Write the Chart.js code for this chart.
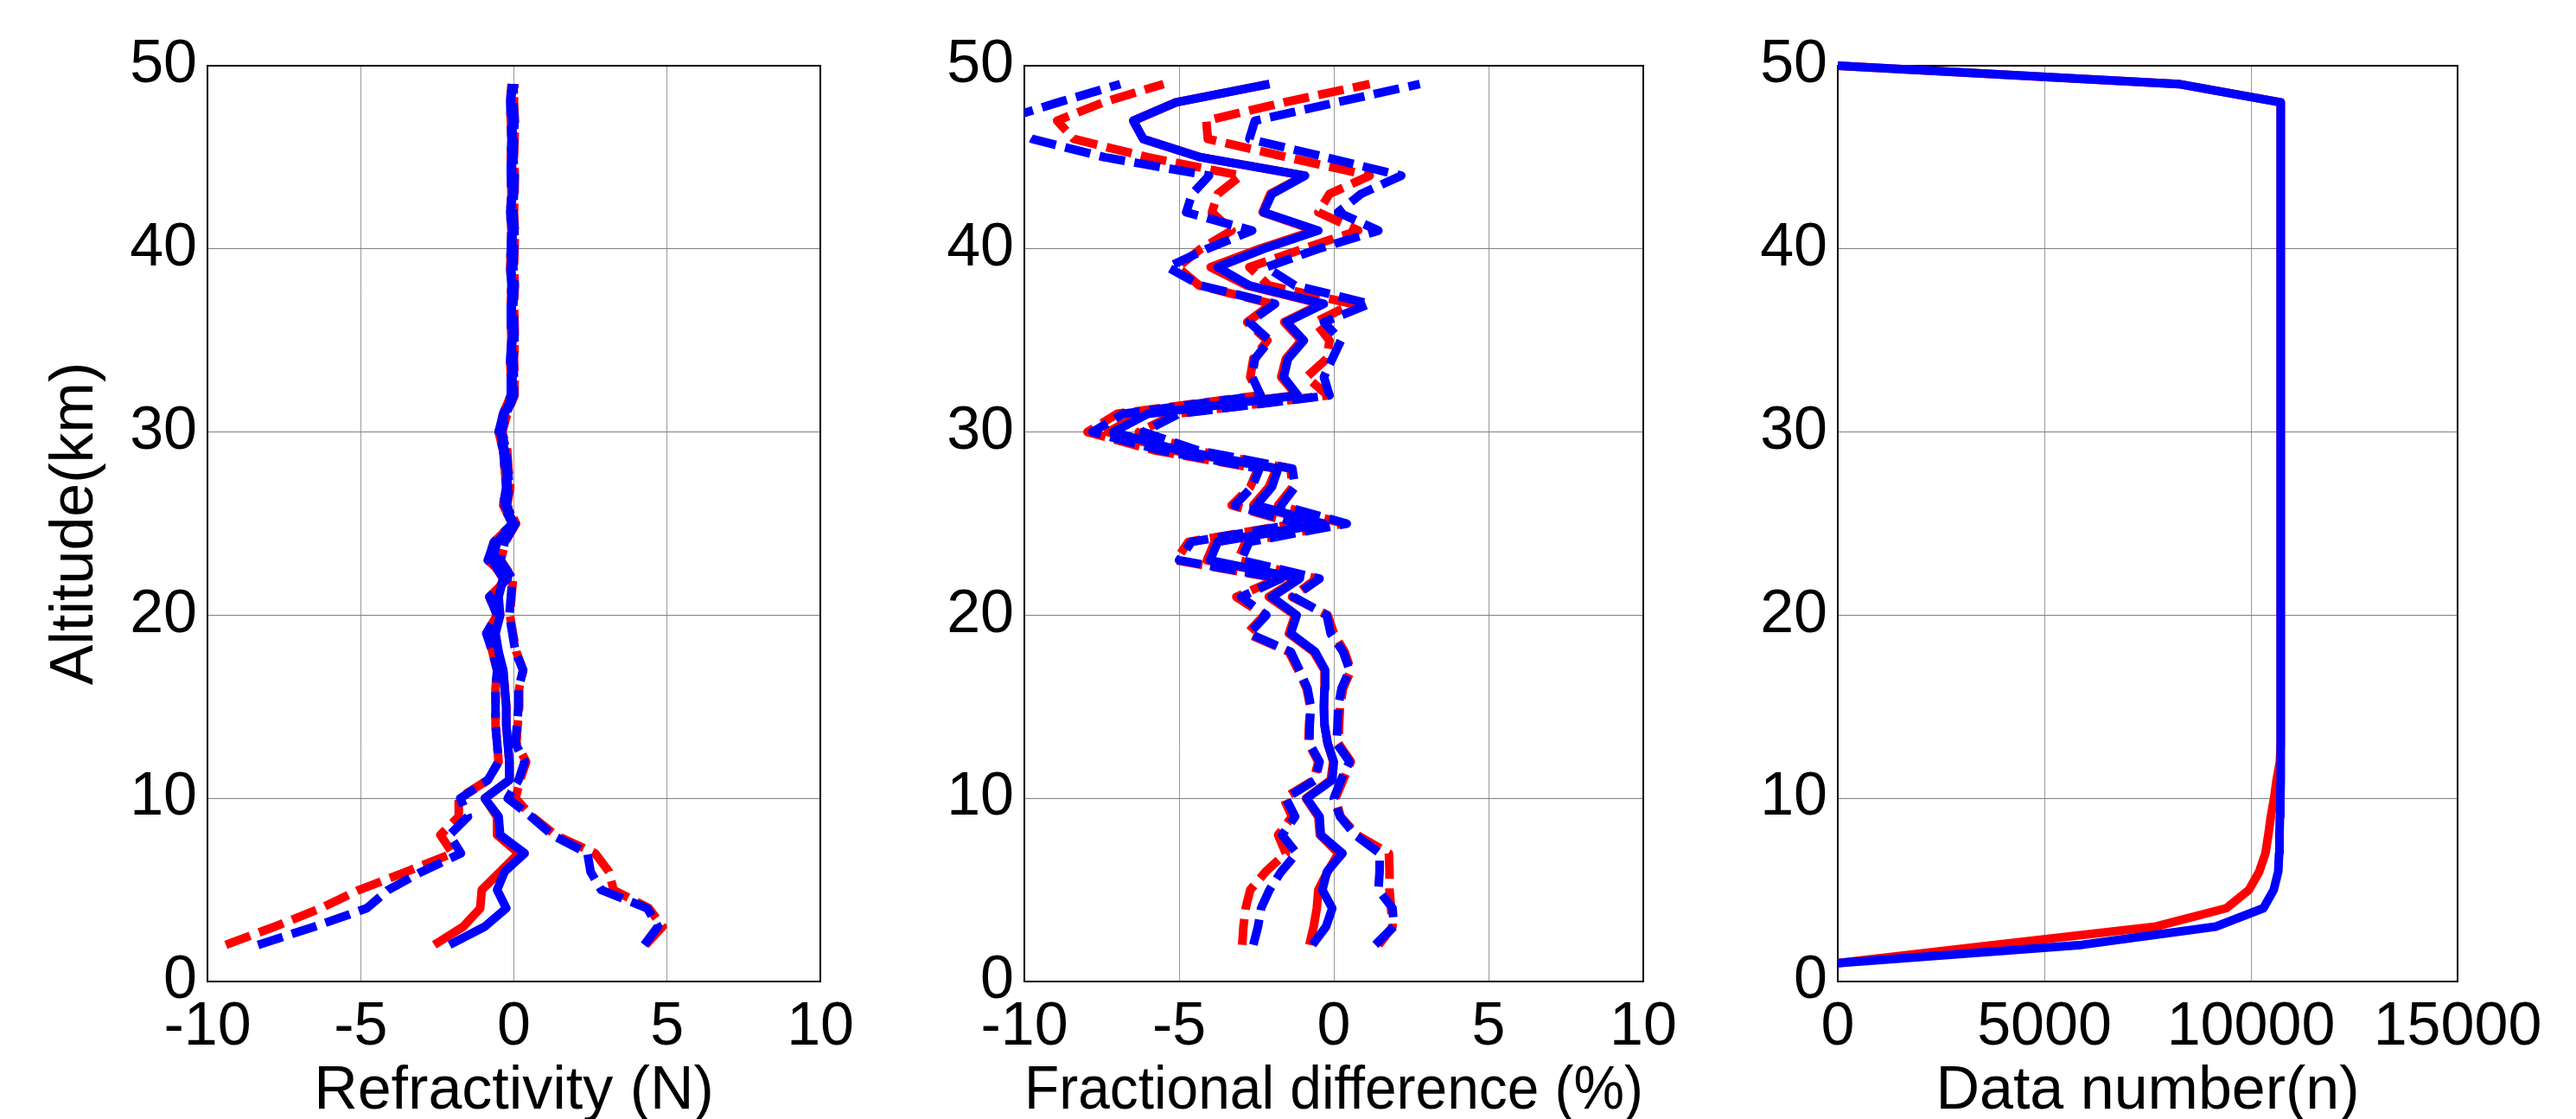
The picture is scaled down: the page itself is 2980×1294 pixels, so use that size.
<!DOCTYPE html>
<html>
<head>
<meta charset="utf-8">
<script src="https://cdn.jsdelivr.net/npm/chart.js@4.4.1/dist/chart.umd.min.js"></script>
<style>
  html, body { margin: 0; padding: 0; background: #fff; }
  body { width: 2980px; height: 1294px; position: relative; overflow: hidden; }
  .panel { position: absolute; top: 0; height: 1294px; }
  canvas { display: block; }
</style>
</head>
<body>
<div class="panel" style="left:0px;width:1000px"><canvas id="refractivityChart" width="1000" height="1294"></canvas></div>
<div class="panel" style="left:1000px;width:960px"><canvas id="fractionChart" width="960" height="1294"></canvas></div>
<div class="panel" style="left:1960px;width:1020px"><canvas id="countChart" width="1020" height="1294"></canvas></div>
<script>
// altitudes (km) of the profile levels
const altitudes = [2, 3, 4, 5, 6, 7, 8, 9, 10, 11, 12, 13, 14, 15, 16, 17, 18, 19, 20, 21,
    22, 23, 24, 25, 26, 27, 28, 29, 30, 31, 32, 33, 34, 35, 36, 37, 38, 39, 40, 41,
    42, 43, 44, 45, 46, 47, 48, 49];
const countAltitudes = [1, 2, 3, 4, 5, 6, 7, 8, 9, 10, 11, 12, 13, 14, 15, 16, 17, 18, 19, 20,
    21, 22, 23, 24, 25, 26, 27, 28, 29, 30, 31, 32, 33, 34, 35, 36, 37, 38, 39, 40,
    41, 42, 43, 44, 45, 46, 47, 48, 49, 50];

// panel 1: refractivity (N)
const refRedMean = [-2.6, -1.65, -1.1, -1.05, -0.45, 0.15, -0.55, -0.55, -0.95, -0.15,
    -0.15, -0.2, -0.25, -0.25, -0.3, -0.35, -0.55, -0.65, -0.45, -0.55,
    -0.35, -0.75, -0.55, 0.0, -0.3, -0.2, -0.25, -0.35, -0.45, -0.3,
    -0.05, -0.05, -0.1, -0.05, -0.05, -0.08, -0.05, -0.1, -0.05, -0.05,
    -0.1, -0.05, -0.05, -0.08, -0.05, -0.05, -0.1, -0.05];
const refBlueMean = [-2.1, -0.95, -0.25, -0.55, -0.3, 0.35, -0.45, -0.5, -0.95, -0.15,
    -0.15, -0.2, -0.25, -0.25, -0.3, -0.35, -0.5, -0.6, -0.45, -0.5,
    -0.35, -0.7, -0.55, 0.0, -0.3, -0.2, -0.25, -0.3, -0.45, -0.3,
    -0.05, -0.05, -0.1, -0.05, -0.05, -0.08, -0.05, -0.1, -0.05, -0.05,
    -0.1, -0.05, -0.05, -0.08, -0.05, -0.05, -0.1, -0.05];
const refRedLow = [-9.4, -7.8, -6.3, -5.05, -3.5, -2.0, -2.4, -1.8, -1.8, -0.85,
    -0.5, -0.55, -0.6, -0.6, -0.6, -0.55, -0.7, -0.9, -0.55, -0.8,
    -0.2, -0.85, -0.65, -0.05, -0.35, -0.25, -0.3, -0.35, -0.5, -0.35,
    -0.1, -0.1, -0.12, -0.08, -0.1, -0.1, -0.08, -0.12, -0.1, -0.08,
    -0.12, -0.08, -0.1, -0.1, -0.08, -0.1, -0.12, -0.08];
const refBlueLow = [-8.35, -6.5, -4.8, -4.1, -3.0, -1.73, -2.1, -1.5, -1.75, -0.85,
    -0.5, -0.55, -0.6, -0.6, -0.6, -0.55, -0.7, -0.9, -0.55, -0.8,
    -0.2, -0.85, -0.65, -0.05, -0.35, -0.25, -0.3, -0.35, -0.5, -0.35,
    -0.1, -0.1, -0.12, -0.08, -0.1, -0.1, -0.08, -0.12, -0.1, -0.08,
    -0.12, -0.08, -0.1, -0.1, -0.08, -0.1, -0.12, -0.08];
const refRedHigh = [4.3, 4.85, 4.4, 3.25, 3.1, 2.65, 1.35, 0.6, 0.05, 0.2,
    0.4, 0.08, 0.12, 0.17, 0.17, 0.3, 0.08, -0.03, -0.13, -0.08,
    -0.03, -0.43, -0.28, 0.07, -0.22, -0.12, -0.18, -0.22, -0.38, -0.22,
    0.02, 0.02, 0.0, 0.03, 0.02, 0.0, 0.03, 0.0, 0.02, 0.03,
    0.0, 0.02, 0.03, 0.0, 0.02, 0.03, 0.0, 0.02];
const refBlueHigh = [4.25, 4.7, 4.35, 2.85, 2.5, 2.4, 1.25, 0.56, -0.2, 0.15,
    0.35, 0.05, 0.1, 0.15, 0.15, 0.3, 0.05, -0.05, -0.15, -0.1,
    -0.05, -0.45, -0.3, 0.05, -0.25, -0.15, -0.2, -0.25, -0.4, -0.25,
    0.0, 0.0, -0.02, 0.02, 0.0, -0.02, 0.02, -0.02, 0.0, 0.02,
    -0.02, 0.0, 0.02, -0.02, 0.0, 0.02, -0.02, 0.0];

// panel 2: fractional difference (%)
const fracRedMean = [-0.79, -0.65, -0.55, -0.5, -0.2, 0.15, -0.45, -0.5, -0.9, -0.1,
    -0.02, -0.2, -0.3, -0.32, -0.3, -0.3, -0.65, -1.45, -1.25, -2.1,
    -1.15, -4.1, -3.85, -0.4, -2.6, -2.1, -1.85, -5.2, -7.3, -6.2,
    -1.2, -1.7, -1.55, -1.05, -1.6, -0.4, -2.8, -3.98, -2.4, -0.6,
    -2.3, -2.05, -0.95, -4.3, -6.16, -6.48, -5.1, -2.08];
const fracBlueMean = [-0.69, -0.25, -0.05, -0.37, -0.22, 0.28, -0.42, -0.46, -0.88, -0.05,
    0.0, -0.2, -0.3, -0.32, -0.3, -0.28, -0.6, -1.39, -1.2, -2.0,
    -1.1, -4.0, -3.75, -0.32, -2.5, -2.0, -1.8, -5.0, -7.13, -6.0,
    -1.16, -1.62, -1.48, -0.97, -1.53, -0.32, -2.73, -3.75, -2.27, -0.5,
    -2.27, -2.0, -0.93, -4.3, -6.16, -6.48, -5.1, -2.08];
const fracRedLow = [-2.96, -2.92, -2.85, -2.7, -2.2, -1.55, -1.8, -1.35, -1.62, -0.65,
    -0.5, -0.82, -0.8, -0.76, -0.88, -1.15, -1.45, -2.8, -2.25, -3.15,
    -1.8, -5.1, -4.7, -1.25, -3.3, -2.7, -2.45, -5.8, -7.96, -7.0,
    -2.4, -2.7, -2.6, -2.15, -2.8, -2.0, -4.35, -5.05, -4.3, -3.3,
    -3.94, -3.75, -3.0, -6.0, -8.4, -8.94, -7.45, -5.5];
const fracBlueLow = [-2.6, -2.45, -2.35, -2.08, -1.7, -1.2, -1.67, -1.25, -1.55, -0.6,
    -0.46, -0.79, -0.78, -0.74, -0.85, -1.11, -1.39, -2.73, -2.18, -3.0,
    -1.7, -5.0, -4.6, -1.16, -3.2, -2.64, -2.4, -5.6, -7.8, -6.8,
    -2.36, -2.64, -2.55, -2.08, -2.73, -1.9, -4.3, -5.37, -4.1, -2.64,
    -4.77, -4.58, -4.03, -7.4, -9.75, -10.8, -8.9, -6.9];
const fracRedHigh = [1.45, 1.9, 1.85, 1.8, 1.8, 1.78, 0.75, 0.22, 0.05, 0.3,
    0.55, 0.15, 0.17, 0.2, 0.3, 0.55, 0.35, 0.0, -0.2, -1.35,
    -0.55, -3.1, -2.85, 0.3, -1.8, -1.33, -1.4, -4.5, -6.3, -5.1,
    -0.2, -0.88, -0.23, -0.14, -0.6, 0.6, -2.1, -2.73, -1.0, 0.79,
    -0.5, -0.14, 1.16, -1.5, -4.07, -4.12, -1.6, 1.16];
const fracBlueHigh = [1.34, 1.94, 1.9, 1.44, 1.48, 1.48, 0.69, 0.2, 0.0, 0.23,
    0.51, 0.09, 0.12, 0.14, 0.25, 0.51, 0.3, -0.1, -0.23, -1.3,
    -0.46, -3.0, -2.73, 0.42, -1.7, -1.25, -1.34, -4.4, -6.16, -5.0,
    -0.14, -0.32, -0.05, 0.23, -0.32, 1.16, -1.25, -2.18, -0.5, 1.44,
    0.14, 0.88, 2.18, -0.25, -2.73, -2.55, 0.09, 2.78];

// panel 3: data number (n)
const countRed = [0, 3800, 7700, 9400, 9950, 10200, 10350, 10420, 10480, 10560,
    10620, 10700, 10720, 10720, 10720, 10720, 10720, 10720, 10720, 10720,
    10720, 10720, 10720, 10720, 10720, 10720, 10720, 10720, 10720, 10720,
    10720, 10720, 10720, 10720, 10720, 10720, 10720, 10720, 10720, 10720,
    10720, 10720, 10720, 10720, 10720, 10720, 10720, 10720, 8250, 0];
const countBlue = [0, 5900, 9150, 10300, 10550, 10660, 10680, 10690, 10700, 10710,
    10720, 10720, 10720, 10720, 10720, 10720, 10720, 10720, 10720, 10720,
    10720, 10720, 10720, 10720, 10720, 10720, 10720, 10720, 10720, 10720,
    10720, 10720, 10720, 10720, 10720, 10720, 10720, 10720, 10720, 10720,
    10720, 10720, 10720, 10720, 10720, 10720, 10720, 10720, 8250, 0];

const RED = "#ff0000";
const BLUE = "#0000ff";
const FONT = "'Liberation Sans', Arial, sans-serif";
const DASH = [30, 11];

function profile(values, alts, color, dashed, clip) {
    return {
        data: values.map((v, i) => ({ x: v, y: alts[i] })),
        showLine: true,
        pointRadius: 0,
        borderWidth: 10,
        borderColor: color,
        backgroundColor: color,
        borderDash: dashed ? DASH : [],
        borderCapStyle: "butt",
        borderJoinStyle: "round",
        clip: clip
    };
}

function makePanel(canvasId, datasets, xCfg, leftWidth, rightWidth, yTitle) {
    const tickFont = { family: FONT, size: 70 };
    const titleFont = { family: FONT, size: 70, lineHeight: 1 };
    const border = { display: true, color: "#000", width: 2 };
    return new Chart(document.getElementById(canvasId), {
        type: "scatter",
        data: { datasets: datasets },
        options: {
            responsive: false,
            animation: false,
            devicePixelRatio: 1,
            layout: { padding: 0 },
            plugins: { legend: { display: false }, tooltip: { enabled: false } },
            scales: {
                x: {
                    type: "linear", position: "bottom",
                    min: xCfg.min, max: xCfg.max,
                    ticks: {
                        stepSize: xCfg.step, color: "#000", font: tickFont, padding: 12,
                        maxRotation: 0, autoSkip: false,
                        callback: v => String(v)
                    },
                    grid: { color: "#999", lineWidth: 1, drawTicks: false },
                    border: border,
                    title: { display: true, text: xCfg.title, color: "#000", font: titleFont, padding: { top: 0, bottom: -4 } },
                    afterFit: s => { s.height = 159; }
                },
                xTop: {
                    type: "linear", position: "top",
                    min: xCfg.min, max: xCfg.max,
                    ticks: { display: false },
                    grid: { display: false, drawTicks: false },
                    border: border,
                    afterFit: s => { s.height = 76; }
                },
                y: {
                    type: "linear", position: "left",
                    min: 0, max: 50,
                    ticks: { stepSize: 10, color: "#000", font: tickFont, padding: 12, autoSkip: false },
                    grid: { color: "#808080", lineWidth: 1, drawTicks: false },
                    border: border,
                    title: { display: !!yTitle, text: yTitle || "", color: "#000", font: titleFont, padding: { top: 53, bottom: 0 } },
                    afterFit: s => { s.width = leftWidth; }
                },
                yRight: {
                    type: "linear", position: "right",
                    min: 0, max: 50,
                    ticks: { display: false },
                    grid: { display: false, drawTicks: false },
                    border: border,
                    afterFit: s => { s.width = rightWidth; }
                }
            }
        }
    });
}

// blue lines come first so they are drawn on top of the red ones
makePanel("refractivityChart", [
    profile(refBlueMean, altitudes, BLUE, false, 5),
    profile(refBlueLow, altitudes, BLUE, true, 5),
    profile(refBlueHigh, altitudes, BLUE, true, 5),
    profile(refRedMean, altitudes, RED, false, 5),
    profile(refRedLow, altitudes, RED, true, 5),
    profile(refRedHigh, altitudes, RED, true, 5)
], { min: -10, max: 10, step: 5, title: "Refractivity (N)" }, 240, 43, "Altitude(km)");

makePanel("fractionChart", [
    profile(fracBlueMean, altitudes, BLUE, false, 0),
    profile(fracBlueLow, altitudes, BLUE, true, 0),
    profile(fracBlueHigh, altitudes, BLUE, true, 0),
    profile(fracRedMean, altitudes, RED, false, 0),
    profile(fracRedLow, altitudes, RED, true, 0),
    profile(fracRedHigh, altitudes, RED, true, 0)
], { min: -10, max: 10, step: 5, title: "Fractional difference (%)" }, 185, 59, null);

makePanel("countChart", [
    profile(countBlue, countAltitudes, BLUE, false, 5),
    profile(countRed, countAltitudes, RED, false, 5)
], { min: 0, max: 15000, step: 5000, title: "Data number(n)" }, 166, 137, null);
</script>
</body>
</html>
